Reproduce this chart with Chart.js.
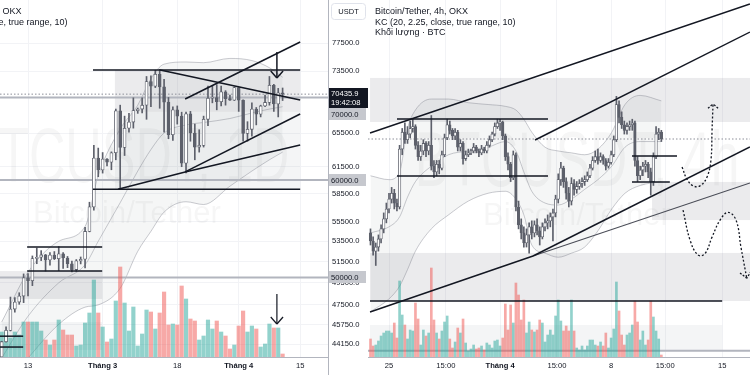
<!DOCTYPE html>
<html>
<head>
<meta charset="utf-8">
<script src="https://cdn.jsdelivr.net/npm/chart.js@4.4.1/dist/chart.umd.min.js"></script>
<style>
  html, body { margin: 0; padding: 0; background: #fff; }
  #wrap { position: relative; width: 750px; height: 375px; overflow: hidden; }
  canvas { position: absolute; top: 0; }
  #left { left: 0; width: 368px; height: 375px; }
  #right { left: 368px; width: 382px; height: 375px; }
</style>
</head>
<body>
<div id="wrap">
  <canvas id="left" width="368" height="375"></canvas>
  <canvas id="right" width="382" height="375"></canvas>
</div>
<script>
// ---------- left pane: BTCUSDT 1D (x = days from 13 Feb 2024) ----------
var leftFirstDay = -6; // 7 Feb
var leftOpen = [43090, 44340, 45290, 47130, 47750, 48290, 49960, 49700, 51800, 51920,
  52150, 51660, 52130, 51780, 52260, 51850, 51300, 50740, 51570, 51730,
  54490, 57050, 62500, 61130, 62390, 62030, 63130, 68280, 63750, 66080,
  66850, 68300, 68500, 69000, 72100, 71480, 73100, 71400, 69400, 65300,
  68400, 67600, 61900, 67900, 65500, 63800, 64000, 67200, 69900, 69980,
  69450, 70750, 69850, 69650, 71300, 69650, 65450, 65950, 68500, 67850,
  68900, 69350, 71600, 69150, 70600];
var leftHigh = [44380, 45580, 48200, 48150, 48590, 50330, 50370, 52050, 52820, 52570,
  52200, 52380, 52480, 52970, 52370, 52000, 51550, 51700, 51950, 54900,
  57550, 64000, 63680, 63150, 62450, 63230, 68500, 69000, 67600, 67950,
  69950, 68630, 69950, 72800, 72900, 73650, 73780, 72400, 70000, 68800,
  68900, 68100, 68100, 68200, 66600, 65900, 67600, 71500, 71500, 71700,
  71500, 70900, 70300, 71400, 71300, 69700, 66900, 69300, 68700, 69000,
  70300, 72800, 71750, 71200, 71250];
var leftLow = [42780, 44300, 45240, 46860, 47550, 47700, 48300, 49240, 51300, 51600,
  50600, 51160, 51700, 50640, 50850, 50920, 50530, 50570, 51280, 50900,
  54450, 56700, 60360, 60770, 61600, 61150, 62300, 59000, 62800, 65600,
  66100, 67950, 68000, 67200, 68800, 71300, 68600, 65600, 64800, 64600,
  66600, 61500, 60800, 64500, 62300, 63200, 63800, 66400, 69300, 68400,
  68900, 69000, 69600, 69600, 68200, 64500, 64500, 65100, 66500, 67500,
  68800, 69000, 68200, 67500, 69600];
var leftClose = [44340, 45290, 47130, 47750, 48290, 49960, 49700, 51800, 51920, 52150,
  51660, 52130, 51780, 52260, 51850, 51300, 50740, 51570, 51730, 54490,
  57050, 62500, 61130, 62390, 62030, 63130, 68280, 63750, 66080, 66850,
  68300, 68500, 69000, 72100, 71480, 73100, 71400, 69400, 65300, 68400,
  67600, 61900, 67900, 65500, 63800, 64000, 67200, 69900, 69980, 69450,
  70750, 69850, 69650, 71300, 69650, 65450, 65950, 68500, 67850, 68900,
  69350, 71600, 69150, 70600, 70435.9];
var leftVolume = [25, 25, 19, 25, 22, 35, 35, 35, 35, 26,
  17, 12, 17, 37, 27, 22, 22, 11, 12, 34,
  44, 77, 44, 30, 15, 18, 56, 90, 54, 26,
  50, 11, 23, 47, 45, 28, 44, 65, 32, 33,
  32, 71, 58, 38, 36, 17, 21, 37, 28, 36,
  25, 21, 8, 12, 31, 46, 25, 31, 28, 10,
  13, 33, 29, 29, 3];

var leftPriceTicks = [77500, 73500, 65500, 61500, 58500, 55500, 53500, 51500, 49500, 47500, 45750, 44150];
var leftTimeTicks = [0, 17, 34, 48, 62];
var leftTimeLabels = ['13', 'Tháng 3', '18', 'Tháng 4', '15'];

var leftKcDays = [-6, 0, 7, 13, 16, 21, 25, 28, 31, 36, 40, 46, 51, 55, 58];
var leftKcUpper = [46000, 50500, 53500, 55000, 60500, 66000, 69000, 72500, 74500, 74800, 74700, 75300, 75000, 74000, 72700];
var leftKcBasis = [43000, 46500, 49500, 51200, 53500, 57500, 61000, 63500, 65500, 66500, 66800, 67300, 68000, 68500, 68800];
var leftKcLower = [40500, 43000, 45800, 47300, 47500, 49000, 52500, 54500, 56500, 57600, 57300, 59300, 61000, 62300, 63200];

var lastPrice = 70435.9;
var lastPriceTimer = '19:42:08';
var leftLevels = [70000, 60000, 50000];

// drawn lines [day0, price0, day1, price1]
var leftLines = [
  [14.8, 73700, 62, 73700], [14.8, 58960, 62, 58960],
  [30.1, 73700, 62, 69670], [35.8, 69800, 62, 77650],
  [20.5, 58960, 35.8, 60900], [35.8, 60900, 62, 67870], [35.8, 60900, 62, 64050],
  [-0.2, 52930, 16.9, 52930], [-0.2, 50600, 16.9, 50600],
  [-6.4, 44800, -1.1, 44800], [-6.4, 43900, -1.1, 43900],
  [56.7, 76210, 56.7, 72590], [55.3, 73550, 56.7, 72590], [58.1, 73550, 56.7, 72590]
];
// arrow drawn over the volume bars [day0, vol0, day1, vol1]
var leftVolLines = [[56.7, 63, 56.7, 33], [55.3, 40, 56.7, 33], [58.1, 40, 56.7, 33]];
// shaded boxes [day0, day1, priceTop, priceBottom]
var leftZones = [
  [19.8, 62, 73700, 68150], [19.8, 62, 68150, 58960],
  [-6.4, 16.9, 50600, 48030], [-6.4, 16.9, 46000, 43660]
];

// ---------- right pane: BTCUSDT 4h (x = hours from 25 Mar 2024 00:00) ----------
var rightFirstHour = -28;
var rightOpen = [65600, 65200, 64700, 64900, 65300, 65800, 66300, 66800, 67300, 67600,
  67100, 66900, 69900, 70800, 70400, 70700, 71000, 71100, 70100, 69500,
  69800, 70200, 69800, 70100, 69000, 68700, 69100, 68900, 69600, 70500,
  71200, 70900, 70600, 70800, 70000, 70200, 69400, 69600, 69700, 69800,
  70000, 69800, 69700, 69900, 69800, 70100, 70400, 70700, 71100, 71300,
  71350, 70600, 69500, 69100, 68400, 69600, 66900, 66000, 65600, 65100,
  65500, 65900, 65600, 66000, 65700, 65400, 65900, 66100, 66200, 66400,
  66600, 67300, 68300, 68900, 68200, 67600, 67200, 68100, 67800, 67950,
  68100, 68200, 68300, 68500, 68900, 69300, 69500, 69300, 69500, 69300,
  69000, 69200, 69600, 70400, 72300, 71600, 71200, 70900, 71100, 71200,
  71300, 69300, 68500, 68800, 69000, 69100, 68700, 68200, 69500, 70700, 70800];
var rightHigh = [65800, 65400, 65100, 65500, 66000, 66600, 67100, 67600, 67900, 67800,
  67300, 70100, 71000, 71300, 71100, 71400, 71500, 71200, 70300, 70100,
  70400, 70300, 70300, 71700, 69300, 69300, 69300, 69800, 70700, 71500,
  71400, 71000, 71000, 70900, 70400, 70300, 69800, 69900, 69900, 70200,
  70100, 69900, 70100, 70000, 70300, 70600, 70800, 71300, 71500, 71500,
  71400, 70700, 69700, 69200, 69800, 69700, 67200, 66300, 65900, 65800,
  66100, 66200, 66200, 66300, 65900, 66100, 66300, 66500, 66600, 66800,
  67500, 68600, 69200, 69000, 68400, 67900, 68400, 68300, 68200, 68300,
  68400, 68500, 68700, 69100, 69500, 69800, 69900, 69700, 69600, 69400,
  69400, 69800, 70600, 72750, 72500, 71900, 71400, 71300, 71400, 71500,
  71400, 69500, 69000, 69200, 69300, 69200, 68900, 69700, 71100, 71000, 70900];
var rightLow = [65000, 64500, 64000, 64700, 65100, 65600, 66100, 66600, 67100, 66800,
  66700, 66800, 69600, 70200, 70200, 70500, 70800, 69900, 69300, 69300,
  69600, 69500, 69600, 68800, 68400, 68500, 68600, 68800, 69500, 70400,
  70700, 70400, 70400, 69800, 69800, 69100, 69300, 69500, 69600, 69700,
  69700, 69500, 69600, 69700, 69700, 70000, 70300, 70600, 71000, 70900,
  70400, 69300, 68800, 68200, 68300, 66700, 65800, 65300, 64900, 64900,
  64600, 65300, 65400, 65500, 65000, 65300, 65700, 65800, 65900, 65200,
  66400, 67100, 68000, 67900, 67300, 66900, 67000, 67500, 67600, 67800,
  67900, 68000, 68200, 68400, 68800, 69200, 69100, 69200, 69100, 68800,
  68900, 69100, 69500, 70300, 71300, 71000, 70700, 70700, 70900, 70900,
  69000, 68200, 68300, 68500, 68700, 68400, 67500, 68000, 69400, 70400, 70300];
var rightClose = [65200, 64700, 64900, 65300, 65800, 66300, 66800, 67300, 67600, 67100,
  66900, 69900, 70800, 70400, 70700, 71000, 71100, 70100, 69500, 69800,
  70200, 69800, 70100, 69000, 68700, 69100, 68900, 69600, 70500, 71200,
  70900, 70600, 70800, 70000, 70200, 69400, 69600, 69700, 69800, 70000,
  69800, 69700, 69900, 69800, 70100, 70400, 70700, 71100, 71300, 71350,
  70600, 69500, 69100, 68400, 69600, 66900, 66000, 65600, 65100, 65500,
  65900, 65600, 66000, 65700, 65400, 65900, 66100, 66200, 66400, 66600,
  67300, 68300, 68900, 68200, 67600, 67200, 68100, 67800, 67950, 68100,
  68200, 68300, 68500, 68900, 69300, 69500, 69300, 69500, 69300, 69000,
  69200, 69600, 70400, 72300, 71600, 71200, 70900, 71100, 71200, 71300,
  69300, 68500, 68800, 69000, 69100, 68700, 68200, 69500, 70700, 70800, 70435.9];
var rightVolume = [18, 11, 12, 16, 21, 24, 26, 26, 24, 34,
  19, 76, 42, 32, 18, 27, 26, 54, 38, 12,
  27, 21, 24, 89, 37, 24, 18, 26, 35, 41,
  18, 9, 15, 29, 24, 38, 14, 6, 8, 12,
  8, 9, 11, 7, 14, 12, 9, 16, 17, 11,
  19, 53, 27, 52, 34, 74, 62, 37, 57, 24,
  35, 27, 25, 27, 37, 34, 15, 22, 27, 22,
  41, 57, 36, 26, 31, 26, 57, 26, 9, 7,
  11, 7, 11, 17, 17, 12, 11, 15, 11, 24,
  9, 19, 28, 75, 46, 22, 12, 22, 24, 32,
  56, 35, 17, 26, 12, 17, 56, 40, 26, 18, 2];

var rightTimeTicks = [0, 86, 168, 254, 336, 418, 504];
var rightTimeLabels = ['25', '15:00', 'Tháng 4', '15:00', '8', '15:00', '15'];

var rightKcHours = [-28, 0, 16, 28, 40, 64, 90, 120, 150, 176, 192, 204, 216, 236, 256, 276, 296, 316, 337, 357, 380, 412];
var rightKcUpper = [68500, 68300, 68700, 71000, 72000, 72600, 72600, 72400, 72300, 72200, 72000, 71500, 70800, 70000, 69800, 69700, 69600, 69900, 70800, 72300, 72800, 72500];
var rightKcBasis = [65600, 65900, 66400, 67400, 68200, 69000, 69600, 69800, 70000, 70300, 69800, 68700, 67700, 67100, 67000, 67300, 67800, 68300, 69000, 70000, 70300, 70300];
var rightKcLower = [61800, 62400, 63000, 63800, 64700, 65800, 66500, 67200, 67600, 67700, 67300, 66500, 65000, 64600, 64400, 64600, 64900, 65700, 66800, 67600, 68000, 68200];

var rightLevels = [60000];
var rightLines = [
  [-28.7, 70757, 546, 78020], [220.9, 70382, 546, 76380],
  [12.1, 71510, 240.5, 71510], [12.1, 68490, 240.5, 68490],
  [367.6, 69535, 435.7, 69535], [367.6, 68180, 424.8, 68180],
  [-28.7, 61786, 217.9, 64462], [217.9, 64462, 546, 70010],
  [-28.7, 62300, 504, 62300]
];
var rightThinLines = [[217.9, 64462, 546, 68126]];
var rightDotUpHours = [443.3, 450.8, 459.9, 470.5, 481, 487, 488.7, 490.2];
var rightDotUpPrices = [68957, 68320, 67980, 67980, 68430, 69320, 70920, 72340];
var rightDotDownHours = [444.8, 455.4, 467.5, 478, 488.7, 500.8, 512.9, 525, 532.5, 541.2];
var rightDotDownPrices = [66745, 65245, 64510, 64580, 65390, 66240, 66630, 66240, 64880, 63380];
var rightDotHeads = [[482.6, 72093, 490.2, 72340], [497.8, 72093, 490.2, 72340],
  [531, 63640, 541.2, 63380], [547.7, 63720, 541.2, 63380]];
var rightZones = [
  [-28.7, 546.1, 73770, 71350], [397.9, 546.1, 68180, 66240],
  [-28.7, 546.1, 64610, 62300], [-28.7, 504, 61180, 60000]
];

// ---------- styles ----------
var FONT = '"Liberation Sans", Arial, sans-serif';
var INK = '#131722';
var CANDLE = '#5d606b';
var GRID = '#f2f3f6';
var AXIS = '#b2b5be';
var TAG = '#c6c8ce';
var KC = 'rgba(120,123,134,0.5)';
var VOL_UP = 'rgba(38,166,154,0.5)';
var VOL_DOWN = 'rgba(239,83,80,0.5)';
var ZONE_DARK = 'rgba(120,123,134,0.15)';
var ZONE_LIGHT = 'rgba(120,123,134,0.08)';

Chart.defaults.font.family = FONT;
Chart.defaults.color = INK;

function xsFrom(first, step, n) {
  var xs = [];
  for (var i = 0; i < n; i++) xs.push(first + step * i);
  return xs;
}

function candleSets(xs, o, h, l, c, bodyWidth) {
  var wicks = [], bodies = [], fills = [];
  for (var i = 0; i < xs.length; i++) {
    wicks.push({ x: xs[i], y: [l[i], h[i]] });
    bodies.push({ x: xs[i], y: [o[i], c[i]] });
    fills.push(c[i] >= o[i] ? '#ffffff' : CANDLE);
  }
  return [
    { type: 'bar', data: wicks, backgroundColor: CANDLE, barThickness: 1, grouped: false, minBarLength: 1, order: 3 },
    { type: 'bar', data: bodies, backgroundColor: fills, borderColor: CANDLE, borderWidth: 0.8, borderSkipped: false,
      barThickness: bodyWidth, grouped: false, minBarLength: 1, order: 2 }
  ];
}

function volumeSet(xs, v, o, c, width) {
  return {
    type: 'bar', yAxisID: 'yv', grouped: false, barThickness: width, order: 4,
    data: xs.map(function(x, i) { return { x: x, y: v[i] }; }),
    backgroundColor: xs.map(function(x, i) { return c[i] >= o[i] ? VOL_UP : VOL_DOWN; })
  };
}

function segment(s, color, width, axis, dash, order) {
  return {
    type: 'line', yAxisID: axis || 'y', data: [{ x: s[0], y: s[1] }, { x: s[2], y: s[3] }],
    borderColor: color, borderWidth: width, borderDash: dash || [], pointRadius: 0,
    tension: 0, fill: false, order: order == null ? 0 : order
  };
}

function curve(xs, ys, dash) {
  return {
    type: 'line', data: xs.map(function(x, i) { return { x: x, y: ys[i] }; }),
    borderColor: INK, borderWidth: 1.3, borderDash: dash, pointRadius: 0, tension: 0.4, fill: false, order: 0
  };
}

function kcSets(xs, up, mid, lo) {
  function pts(a) { return xs.map(function(x, i) { return { x: x, y: a[i] }; }); }
  var base = { type: 'line', borderColor: KC, borderWidth: 0.8, pointRadius: 0, cubicInterpolationMode: 'monotone', order: 6 };
  return [
    Object.assign({}, base, { data: pts(lo), fill: false }),
    Object.assign({}, base, { data: pts(up), fill: '-1', backgroundColor: 'rgba(120,123,134,0.07)' }),
    Object.assign({}, base, { data: pts(mid), fill: false })
  ];
}

function timeAxis(min, max, ticks, labels) {
  return {
    type: 'linear', min: min, max: max, offset: false,
    grid: { color: GRID, drawTicks: false, offset: false },
    border: { color: AXIS },
    afterBuildTicks: function(s) { s.ticks = ticks.map(function(v) { return { value: v }; }); },
    afterFit: function(s) { s.height = 18; s.paddingLeft = 0; s.paddingRight = 0; },
    ticks: {
      padding: 4, color: INK, autoSkip: false, maxRotation: 0,
      callback: function(v) { return labels[ticks.indexOf(v)]; },
      font: function(c) {
        var lab = (c.tick && labels[ticks.indexOf(c.tick.value)]) || '';
        return { size: 7.6, weight: lab.indexOf('Tháng') === 0 ? 'bold' : 'normal' };
      }
    }
  };
}

function decor(opts) {
  return {
    id: 'decor',
    beforeDatasetsDraw: function(chart) {
      var ctx = chart.ctx, a = chart.chartArea, x = chart.scales.x, y = chart.scales.y;
      ctx.save();
      ctx.beginPath();
      ctx.rect(a.left, a.top, a.right - a.left, a.bottom - a.top);
      ctx.clip();
      ctx.fillStyle = 'rgba(19,23,34,0.04)';
      ctx.textAlign = 'center';
      ctx.textBaseline = 'alphabetic';
      ctx.font = '78px ' + FONT;
      ctx.fillText(opts.mark, opts.markX, opts.markY, 325);
      ctx.font = '31px ' + FONT;
      ctx.fillText('Bitcoin/Tether', opts.markX, opts.subY);
      opts.zones.forEach(function(z, i) {
        var x0 = x.getPixelForValue(z[0]), x1 = x.getPixelForValue(z[1]);
        var y0 = y.getPixelForValue(z[2]), y1 = y.getPixelForValue(z[3]);
        ctx.fillStyle = opts.zoneFill[i];
        ctx.fillRect(x0, y0, x1 - x0, y1 - y0);
      });
      ctx.restore();
    },
    afterDraw: function(chart) {
      var ctx = chart.ctx;
      ctx.save();
      ctx.font = '9px ' + FONT;
      ctx.fillStyle = INK;
      ctx.textAlign = 'left';
      ctx.textBaseline = 'middle';
      opts.legend.forEach(function(t, i) { ctx.fillText(t, opts.legendX, 12 + i * 10.5); });
      ctx.restore();
      if (opts.overlay) opts.overlay(chart);
    }
  };
}

function priceAxisOverlay(chart) {
  var ctx = chart.ctx, a = chart.chartArea, y = chart.scales.y;
  ctx.save();
  ctx.fillStyle = AXIS;
  ctx.fillRect(a.right, 0, 1, chart.height);
  // currency tag
  ctx.fillStyle = '#ffffff';
  ctx.strokeStyle = '#e0e3eb';
  ctx.beginPath();
  ctx.roundRect(a.right + 3.5, 3.5, 34, 16, 3);
  ctx.fill();
  ctx.stroke();
  ctx.fillStyle = INK;
  ctx.font = '7.5px ' + FONT;
  ctx.textAlign = 'center';
  ctx.textBaseline = 'middle';
  ctx.fillText('USDT', a.right + 20.5, 12);
  // last price tag
  var top = Math.round(y.getPixelForValue(lastPrice)) - 6;
  ctx.fillStyle = INK;
  ctx.fillRect(a.right + 1, top, 39, 20);
  ctx.fillStyle = '#ffffff';
  ctx.textAlign = 'left';
  ctx.font = '7.6px ' + FONT;
  ctx.fillText(lastPrice.toFixed(1), a.right + 3, top + 5.5);
  ctx.fillText(lastPriceTimer, a.right + 3, top + 14.5);
  var bottom = top + 20;
  leftLevels.forEach(function(p) {
    var t = Math.round(y.getPixelForValue(p)) - 6;
    if (t < bottom && t + 12 > top) t = bottom;
    ctx.fillStyle = TAG;
    ctx.fillRect(a.right + 1, t, 37, 12);
    ctx.fillStyle = INK;
    ctx.fillText(p.toFixed(1), a.right + 3, t + 6.5);
  });
  ctx.restore();
}

var baseOptions = {
  responsive: false, animation: false, events: [], devicePixelRatio: 1,
  layout: { padding: 0, autoPadding: false },
  plugins: { legend: { display: false }, tooltip: { enabled: false } }
};

// ---------- left chart ----------
(function() {
  var xs = xsFrom(leftFirstDay, 1, leftOpen.length);
  var xMin = -6.38, xMax = 68.34;
  var sets = [];
  leftLines.forEach(function(s) { sets.push(segment(s, INK, 1.5)); });
  leftVolLines.forEach(function(s) { sets.push(segment(s, INK, 1.2, 'yv')); });
  sets = sets.concat(candleSets(xs, leftOpen, leftHigh, leftLow, leftClose, 3));
  sets.push(volumeSet(xs, leftVolume, leftOpen, leftClose, 3.5));
  leftLevels.forEach(function(p) { sets.push(segment([xMin, p, xMax, p], AXIS, 2, 'y', [], 5)); });
  sets.push(segment([xMin, lastPrice, xMax, lastPrice], '#8c8f99', 1, 'y', [1.5, 2], 5));
  sets = sets.concat(kcSets(leftKcDays, leftKcUpper, leftKcBasis, leftKcLower));

  new Chart(document.getElementById('left'), {
    type: 'bar',
    data: { datasets: sets },
    options: Object.assign({}, baseOptions, {
      scales: {
        x: timeAxis(xMin, xMax, leftTimeTicks, leftTimeLabels),
        y: {
          type: 'logarithmic', position: 'right', min: 43090, max: 83990,
          grid: { color: GRID, drawTicks: false },
          border: { color: AXIS },
          afterBuildTicks: function(s) { s.ticks = leftPriceTicks.map(function(v) { return { value: v }; }); },
          afterFit: function(s) { s.width = 40; s.paddingTop = 0; s.paddingBottom = 0; },
          ticks: { padding: 4, color: INK, autoSkip: false, font: { size: 7.6 },
            callback: function(v) { return Number(v).toFixed(1); } }
        },
        yv: { type: 'linear', display: false, min: 0, max: 357 }
      }
    }),
    plugins: [decor({
      mark: 'BTCUSDT, 1D', markX: 127, markY: 182, subY: 223,
      zones: leftZones, zoneFill: [ZONE_DARK, ZONE_LIGHT, ZONE_DARK, ZONE_LIGHT],
      legend: ['Bitcoin/Tether, 1D, OKX', 'KC (20, 2.25, close, true range, 10)'], legendX: -73,
      overlay: priceAxisOverlay
    })]
  });
})();

// ---------- right chart ----------
(function() {
  var xs = xsFrom(rightFirstHour, 4, rightOpen.length);
  var xMin = -31.77, xMax = 546.1;
  var sets = [];
  rightLines.forEach(function(s) { sets.push(segment(s, INK, 1.5)); });
  rightThinLines.forEach(function(s) { sets.push(segment(s, '#4a4d57', 1.1)); });
  sets.push(curve(rightDotUpHours, rightDotUpPrices, [2, 2]));
  sets.push(curve(rightDotDownHours, rightDotDownPrices, [2, 2]));
  rightDotHeads.forEach(function(s) { sets.push(segment(s, INK, 1.3, 'y', [2, 1.5])); });
  sets = sets.concat(candleSets(xs, rightOpen, rightHigh, rightLow, rightClose, 2.6));
  sets.push(volumeSet(xs, rightVolume, rightOpen, rightClose, 2));
  rightLevels.forEach(function(p) { sets.push(segment([xMin, p, xMax, p], AXIS, 2, 'y', [], 5)); });
  sets.push(segment([xMin, lastPrice, xMax, lastPrice], '#8c8f99', 1, 'y', [1.5, 2], 5));
  sets = sets.concat(kcSets(rightKcHours, rightKcUpper, rightKcBasis, rightKcLower));

  new Chart(document.getElementById('right'), {
    type: 'bar',
    data: { datasets: sets },
    options: Object.assign({}, baseOptions, {
      scales: {
        x: timeAxis(xMin, xMax, rightTimeTicks, rightTimeLabels),
        y: { type: 'logarithmic', display: false, min: 59713, max: 78258 },
        yv: { type: 'linear', display: false, min: 0, max: 357 }
      }
    }),
    plugins: [decor({
      mark: 'BTCUSDT, 4h', markX: 209, markY: 186, subY: 225,
      zones: rightZones, zoneFill: [ZONE_DARK, ZONE_DARK, ZONE_DARK, ZONE_LIGHT],
      legend: ['Bitcoin/Tether, 4h, OKX', 'KC (20, 2.25, close, true range, 10)', 'Khối lượng · BTC'], legendX: 7
    })]
  });
})();
</script>
</body>
</html>
